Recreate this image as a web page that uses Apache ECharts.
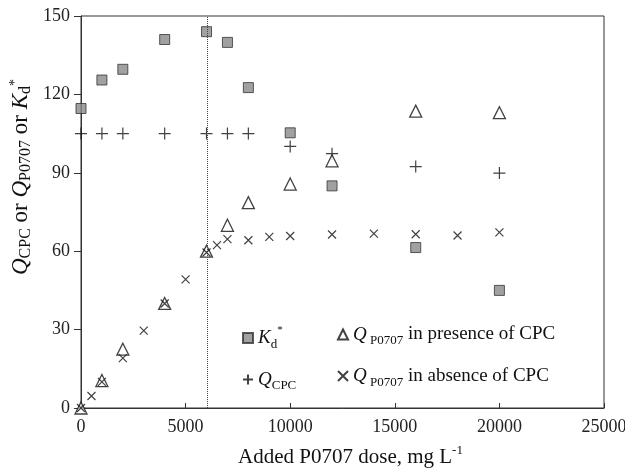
<!DOCTYPE html>
<html>
<head>
<meta charset="utf-8">
<script src="https://cdn.jsdelivr.net/npm/echarts@6/dist/echarts.min.js"></script>
<style>
  html, body { margin: 0; padding: 0; background: #fff; }
  #chart { width: 625px; height: 469px; }
</style>
</head>
<body>
<div id="chart"></div>
<script>
// Added P0707 dose (mg/L) and measured quantities
const doseMain = [0, 1000, 2000, 4000, 6000, 7000, 8000, 10000, 12000, 16000, 20000];
const kdStar = [114.6, 125.5, 129.6, 141, 144, 139.9, 122.6, 105.3, 85, 61.4, 45];
const qCpc = [105, 105, 105, 105, 105, 105, 105, 100.1, 97.3, 92.4, 89.9];
const qPresence = [0, 10.5, 22.5, 40, 60, 69.9, 78.6, 85.7, 94.6, 113.6, 113];

const doseAbsence = [0, 500, 1000, 2000, 3000, 4000, 5000, 6000, 6500, 7000, 8000, 9000, 10000, 12000, 14000, 16000, 18000, 20000];
const qAbsence = [0, 4.6, 10, 19.1, 29.6, 40, 49.2, 59.5, 62.3, 64.6, 64.2, 65.5, 65.8, 66.4, 66.7, 66.5, 66, 67.2];

const xTicks = { min: 0, max: 25000, step: 5000 };
const yTicks = { min: 0, max: 150, step: 30 };
const markerDose = 6050;

const serif = 'Liberation Serif';
function richSet(size, subRatio) {
  const r = subRatio || 0.66;
  return {
    n: { fontFamily: serif, fontSize: size, lineHeight: 26, verticalAlign: 'middle', color: '#111' },
    i: { fontFamily: serif, fontSize: size, fontStyle: 'italic', lineHeight: 26, verticalAlign: 'middle', color: '#111' },
    sub: { fontFamily: serif, fontSize: Math.round(size * r), lineHeight: 15, verticalAlign: 'bottom', color: '#111' },
    sup: { fontFamily: serif, fontSize: Math.round(size * 0.6), lineHeight: 12, verticalAlign: 'top', color: '#111' }
  };
}

const pair = (xs, ys) => xs.map((x, k) => [x, ys[k]]);

const plusPath = 'path://M5,0L5,10M0,5L10,5';
const crossPath = 'path://M0,0L10,10M10,0L0,10';

const names = { kd: 'kd', cpc: 'cpc', pres: 'pres', abs: 'abs' };
const legendText = {
  kd: '{i|K}{sub|d}{sup|*}',
  cpc: '{i|Q}{sub|CPC}',
  pres: '{i|Q}{sub| P0707}{n| in presence of CPC}',
  abs: '{i|Q}{sub| P0707}{n| in absence of CPC}'
};
const yTitle = '{i|Q}{sub|CPC}{n| or }{i|Q}{sub|P0707}{n| or }{i|K}{sub|d}{sup|*}';
const xTitle = '{n|Added P0707 dose, mg L}{sup|-1}';

const chart = echarts.init(document.getElementById('chart'));
chart.setOption({
  animation: false,
  backgroundColor: '#fff',
  grid: {
    left: 81, right: 21, top: 16, bottom: 61,
    outerBoundsMode: 'none',
    show: true, borderColor: '#333', borderWidth: 1
  },
  xAxis: {
    type: 'value', min: xTicks.min, max: xTicks.max, interval: xTicks.step,
    axisLine: { lineStyle: { color: '#333', width: 1 } },
    axisTick: { inside: true, length: 5, lineStyle: { color: '#333' } },
    axisLabel: { fontFamily: serif, fontSize: 18, color: '#222', margin: 10, formatter: v => String(v) },
    splitLine: { show: false },
    name: xTitle,
    nameLocation: 'middle', nameGap: 36,
    nameTextStyle: { rich: richSet(21), fontFamily: serif, fontSize: 21, color: '#111', padding: [0, 0, 0, 16] }
  },
  yAxis: {
    type: 'value', min: yTicks.min, max: yTicks.max, interval: yTicks.step,
    axisLine: { show: true, lineStyle: { color: '#333', width: 1 } },
    axisTick: { show: true, inside: false, length: 7, lineStyle: { color: '#333' } },
    axisLabel: { fontFamily: serif, fontSize: 18, color: '#222', margin: 11 },
    splitLine: { show: false }
  },
  graphic: [
    {
      type: 'text', x: 21, y: 177, rotation: Math.PI / 2,
      style: {
        text: yTitle, rich: richSet(23, 0.7), align: 'center', verticalAlign: 'middle',
        fontFamily: serif, fontSize: 23, fill: '#111'
      }
    }
  ],
  legend: [
    {
      orient: 'vertical', left: 237, top: 320, itemGap: 19,
      itemWidth: 10, itemHeight: 10,
      data: [names.kd, names.cpc],
      formatter: n => legendText[n],
      textStyle: { rich: richSet(19), fontFamily: serif, fontSize: 19 }
    },
    {
      orient: 'vertical', left: 332, top: 320, itemGap: 19,
      itemWidth: 10, itemHeight: 10,
      data: [names.pres, names.abs],
      formatter: n => legendText[n],
      textStyle: { rich: richSet(19), fontFamily: serif, fontSize: 19 }
    }
  ],
  series: [
    {
      name: names.kd, type: 'scatter', symbol: 'rect', symbolSize: 10,
      itemStyle: { color: '#8a8a8a', borderColor: '#333', borderWidth: 1 },
      data: pair(doseMain, kdStar), z: 3,
      markLine: {
        silent: true, symbol: 'none', label: { show: false },
        lineStyle: { type: 'dotted', color: '#444', width: 1 },
        data: [{ xAxis: markerDose }]
      }
    },
    {
      name: names.cpc, type: 'scatter', symbol: plusPath, symbolSize: 12,
      itemStyle: { color: 'transparent', borderColor: '#111', borderWidth: 1.2 },
      data: pair(doseMain, qCpc), z: 4
    },
    {
      name: names.pres, type: 'scatter', symbol: 'triangle', symbolSize: 12,
      itemStyle: { color: '#fff', borderColor: '#111', borderWidth: 1.3 },
      data: pair(doseMain, qPresence), z: 4
    },
    {
      name: names.abs, type: 'scatter', symbol: crossPath, symbolSize: 8,
      itemStyle: { color: 'transparent', borderColor: '#111', borderWidth: 1.2 },
      data: pair(doseAbsence, qAbsence), z: 5
    }
  ]
});
</script>
</body>
</html>
